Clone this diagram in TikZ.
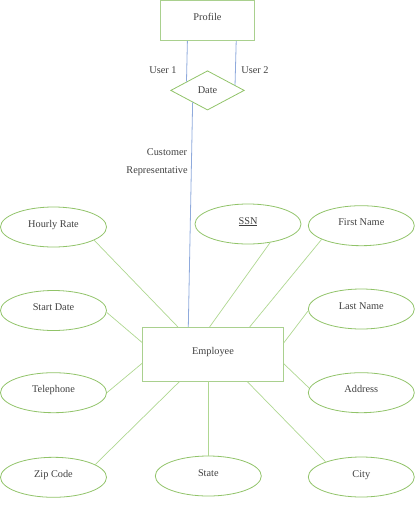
\documentclass[tikz,border=0pt]{standalone}
\usepackage{fontspec}
\setmainfont{Liberation Serif}
\usetikzlibrary{shapes.geometric,calc}
\definecolor{ellgreen}{RGB}{145,195,105}
\definecolor{boxgreen}{RGB}{169,208,142}
\definecolor{lingreen}{RGB}{175,215,145}
\definecolor{linblue}{RGB}{143,170,220}
\definecolor{txtgray}{RGB}{64,64,64}
\begin{document}
\begin{tikzpicture}[x=1pt,y=-1pt,
  attr/.style={ellipse,draw=ellgreen,line width=0.8pt,minimum width=106pt,minimum height=40pt,inner sep=0pt,text height=4pt,text depth=4pt,text=txtgray,font=\fontsize{10.3}{12}\selectfont},
  entbox/.style={rectangle,draw=boxgreen,line width=0.8pt,inner sep=0pt,text height=4pt,text depth=4pt,text=txtgray,font=\fontsize{10.3}{12}\selectfont},
  relshape/.style={diamond,draw=ellgreen,line width=0.8pt,minimum width=73.6pt,minimum height=39.3pt,inner sep=0pt,text=txtgray,font=\fontsize{10.3}{12}\selectfont},
  lbl/.style={text=txtgray,inner sep=0pt,font=\fontsize{10.3}{12}\selectfont},
  conn/.style={draw=lingreen,line width=0.7pt},
  bconn/.style={draw=linblue,line width=0.8pt}]
\useasboundingbox (0,0) rectangle (417,512);
% entities
\node[entbox,minimum width=94pt,minimum height=40pt] (prof) at (207.5,20.7) {Profile};
\node[entbox,minimum width=140.6pt,minimum height=53.7pt] (emp) at (213,354.2) {Employee};
\node[relshape] (dt) at (207.5,90.4) {Date};
% attributes
\node[attr] (hr) at (53.5,227) {Hourly Rate};
\node[attr] (sd) at (53.5,310.5) {Start Date};
\node[attr] (tel) at (53.5,392.7) {Telephone};
\node[attr] (zip) at (53.5,477.3) {Zip Code};
\node[attr] (st) at (208.3,476) {State};
\node[attr] (city) at (361.3,477) {City};
\node[attr] (addr) at (361.3,392.7) {Address};
\node[attr] (ln) at (361.3,309) {Last Name};
\node[attr] (fn) at (361.3,225.7) {First Name};
\node[attr] (ssn) at (248,224) {\underline{SSN}};
% labels
\node[lbl] (u1) at (163,70) {User 1};
\node[lbl] (u2) at (255,70) {User 2};
\node[lbl] (cu) at (167,152) {Customer};
\node[lbl] (rep) at (157,171) {Representative};
% relationship connectors
\draw[bconn] ([xshift=27.3pt]prof.south west) -- ($(dt.north)!0.565!(dt.west)$);
\draw[bconn] ([xshift=-18.7pt]prof.south east) -- ($(dt.north)!0.74!(dt.east)$);
\draw[bconn] ($(dt.south)!0.4!(dt.west)$) -- ([xshift=46pt]emp.north west);
% attribute connectors
\draw[conn] (hr.-18) -- ([xshift=35.6pt]emp.north west);
\draw[conn] (sd.-2) -- ([yshift=-15.7pt]emp.north west);
\draw[conn] (tel.east) -- ([yshift=-36.2pt]emp.north west);
\draw[conn] (zip.17) -- ([xshift=37.3pt]emp.south west);
\draw[conn] (emp.south west -| st.north) -- (st.north);
\draw[conn] (city.157.6) -- ([xshift=-36.6pt]emp.south east);
\draw[conn] (addr.175) -- ([yshift=-36.7pt]emp.north east);
\draw[conn] (ln.182) -- ([yshift=-16pt]emp.north east);
\draw[conn] (fn.-161) -- ([xshift=-34pt]emp.north east);
\draw[conn] (ssn.-40.6) -- ([xshift=67.3pt]emp.north west);
\end{tikzpicture}
\end{document}
